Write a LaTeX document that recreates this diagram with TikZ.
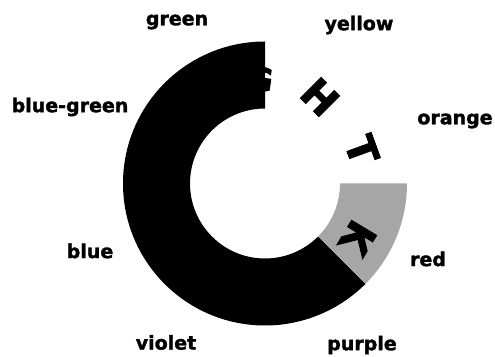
\documentclass[tikz,border=0pt]{standalone}
\usepackage{fontspec}
\setmainfont{DejaVu Sans}
\newfontfamily\heavyfont{DejaVu Sans Bold}[FakeBold=1.6]
\newfontfamily\heavierfont{DejaVu Sans Bold}[FakeBold=2.5]
\usetikzlibrary{calc}
\begin{document}
\begin{tikzpicture}[x=1pt,y=1pt,
  lab/.style={font=\heavyfont\fontsize{19}{19}\selectfont, inner sep=0pt},
  big/.style={font=\heavierfont\fontsize{40}{40}\selectfont, inner sep=0pt}]
\useasboundingbox (0,0) rectangle (495,356);
\coordinate (c) at (265,172.5);
% black ring
\fill[black] ($(c)+(90:142)$) arc[start angle=90,end angle=315,radius=142]
  -- ($(c)+(315:75)$) arc[start angle=315,end angle=90,radius=75] -- cycle;
% grey stippled segment
\fill[black!35] ($(c)+(0:142)$) arc[start angle=0,end angle=-45,radius=142]
  -- ($(c)+(-45:75)$) arc[start angle=-45,end angle=0,radius=75] -- cycle;
% letters
\node[big,font=\heavierfont\fontsize{32}{32}\selectfont,rotate=-8] (G) at (260,277) {G};
\node[big,rotate=-45] (H) at (320,259) {H};
\node[big,rotate=-70] (T) at (362,206) {T};
\node[big,rotate=-121] (K) at (358,118) {K};
% labels
\node[lab] (green) at (177,334) {green};
\node[lab] (yellow) at (359,331) {yellow};
\node[lab] (bluegreen) at (70,249) {blue-green};
\node[lab] (orange) at (455,235) {orange};
\node[lab] (blue) at (90,105) {blue};
\node[lab] (red) at (428,97) {red};
\node[lab] (violet) at (166,13.5) {violet};
\node[lab] (purple) at (362,11) {purple};
\end{tikzpicture}
\end{document}
